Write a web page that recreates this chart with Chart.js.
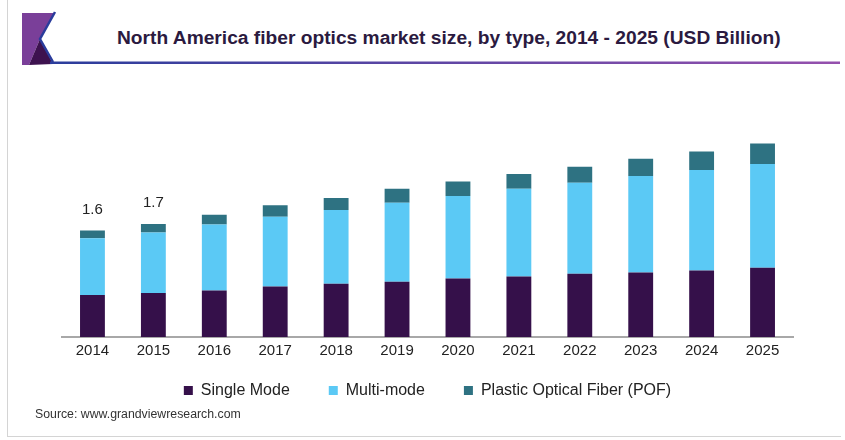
<!DOCTYPE html>
<html>
<head>
<meta charset="utf-8">
<title>North America fiber optics market size</title>
<script src="https://cdn.jsdelivr.net/npm/chart.js@4.4.0/dist/chart.umd.min.js"></script>
<style>
  html, body { margin: 0; padding: 0; background: #fff; }
  body { width: 845px; height: 440px; position: relative; overflow: hidden; font-family: "Liberation Sans", Arial, sans-serif; }
  .frame { position: absolute; left: 7px; top: 0; width: 833px; height: 436px; border-left: 1px solid #d4d4d4; border-bottom: 1px solid #d4d4d4; }
  .logo { position: absolute; left: 0; top: 0; }
  .title { position: absolute; left: 117px; top: 26px; font-size: 19.2px; line-height: 24px; font-weight: bold; color: #2b1a40; white-space: nowrap; }
  .source { position: absolute; left: 35px; top: 407px; font-size: 12.3px; color: #333; }
  #grafico { position: absolute; left: 0; top: 70px; }
</style>
</head>
<body>
<div class="frame"></div>
<svg class="logo" width="845" height="70">
  <defs>
    <linearGradient id="raya" x1="0" x2="1" y1="0" y2="0">
      <stop offset="0" stop-color="#2b3d9c"/>
      <stop offset="1" stop-color="#9550ad"/>
    </linearGradient>
  </defs>
  <polygon points="22,13 54,13 40,39 29,65 22,65" fill="#7a3f99"/>
  <polygon points="40,39 53,64 29,65" fill="#3d124f"/>
  <polyline points="55,12 40,39 53,62" fill="none" stroke="#2a3c9c" stroke-width="2.5"/>
  <rect x="50" y="61.5" width="790" height="2.5" fill="url(#raya)"/>
</svg>
<div class="title">North America fiber optics market size, by type, 2014 - 2025 (USD Billion)</div>
<canvas id="grafico" width="845" height="360"></canvas>
<div class="source">Source: www.grandviewresearch.com</div>

<script>
const anios = ['2014', '2015', '2016', '2017', '2018', '2019', '2020', '2021', '2022', '2023', '2024', '2025'];
const singleMode = [0.63, 0.66, 0.70, 0.76, 0.80, 0.83, 0.88, 0.91, 0.95, 0.97, 1.00, 1.04];
const multiMode = [0.855, 0.91, 0.99, 1.05, 1.11, 1.19, 1.24, 1.32, 1.37, 1.45, 1.51, 1.56];
const pof = [0.115, 0.13, 0.15, 0.17, 0.18, 0.21, 0.22, 0.22, 0.24, 0.26, 0.28, 0.31];
const aniosConTotal = ['2014', '2015']; // solo estos llevan el total encima

const fuente = '"Liberation Sans", Arial, sans-serif';

// escribe el total de la columna encima de la barra
const totales = {
  id: 'totales',
  afterDatasetsDraw(chart) {
    const ctx = chart.ctx;
    const ultimo = chart.getDatasetMeta(chart.data.datasets.length - 1);
    ctx.save();
    ctx.font = '15px ' + fuente;
    ctx.fillStyle = '#222';
    ctx.textAlign = 'center';
    ctx.textBaseline = 'middle';
    aniosConTotal.forEach(a => {
      const i = anios.indexOf(a);
      const total = singleMode[i] + multiMode[i] + pof[i];
      const barra = ultimo.data[i];
      ctx.fillText(total.toFixed(1), barra.x, barra.y - 21);
    });
    ctx.restore();
  }
};

// el padding de la leyenda separa bien los items pero la deja muy abajo: la subo
const subirLeyenda = {
  id: 'subirLeyenda',
  afterLayout(chart) {
    chart.legend.top -= 21.5;
    chart.legend.bottom -= 21.5;
  }
};

const ctx = document.getElementById('grafico').getContext('2d');

new Chart(ctx, {
  type: 'bar',
  data: {
    labels: anios,
    datasets: [
      { label: 'Single Mode', data: singleMode, backgroundColor: '#35104a' },
      { label: 'Multi-mode', data: multiMode, backgroundColor: '#5bc9f5' },
      { label: 'Plastic Optical Fiber (POF)', data: pof, backgroundColor: '#2e7282' }
    ]
  },
  options: {
    responsive: false,
    animation: false,
    devicePixelRatio: 1,
    categoryPercentage: 0.8,
    barPercentage: 0.51,
    layout: { padding: { top: 67.5, left: 62, right: 52, bottom: 0 } },
    scales: {
      x: {
        stacked: true,
        grid: { display: false, drawTicks: false },
        border: { color: '#a8a8a8', width: 2 },
        ticks: { color: '#222', font: { size: 15, family: fuente }, padding: 5 }
      },
      y: { stacked: true, display: false, min: 0, max: 3 }
    },
    plugins: {
      legend: {
        position: 'bottom',
        labels: { boxWidth: 9, boxHeight: 9, padding: 39, color: '#222', font: { size: 16, family: fuente } }
      },
      tooltip: { enabled: false }
    }
  },
  plugins: [totales, subirLeyenda]
});
</script>
</body>
</html>
